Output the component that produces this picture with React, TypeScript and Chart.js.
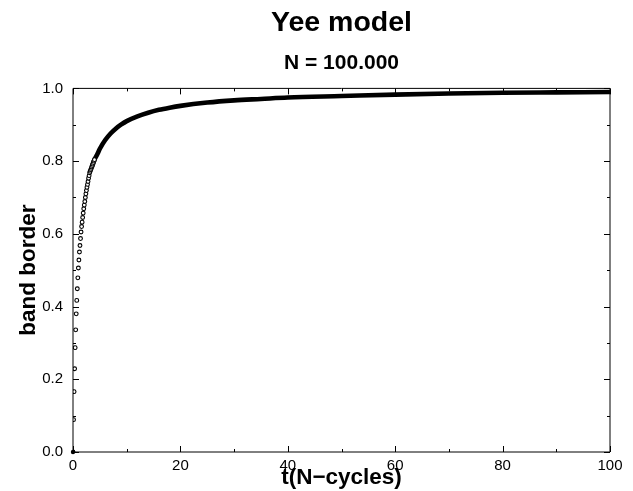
import React, { useEffect, useRef } from "react";
import { Chart, registerables } from "chart.js";

Chart.register(...registerables);

const FONT = "'Liberation Sans', Arial, Helvetica, sans-serif";

const titleText = "Yee model";
const subtitleText = "N = 100.000";
const xTitle = "t(N\u2212cycles)";
const yTitle = "band border";

// early points, drawn as hollow circles
const earlyT = [
  0, 0.1, 0.2, 0.3, 0.4, 0.5, 0.6, 0.7, 0.8, 0.9,
  1.0, 1.1, 1.2, 1.3, 1.4, 1.5, 1.6, 1.7, 1.8, 1.9,
  2.0, 2.1, 2.2, 2.3, 2.4, 2.5, 2.6, 2.7, 2.8, 2.9,
  3.0, 3.1, 3.2, 3.3, 3.4, 3.5, 3.6, 3.7, 3.8, 3.9, 4.0,
];
const earlyY = [
  0, 0.089, 0.166, 0.229, 0.287, 0.336, 0.38, 0.417, 0.449, 0.479,
  0.506, 0.528, 0.55, 0.568, 0.587, 0.605, 0.62, 0.632, 0.645, 0.657,
  0.669, 0.679, 0.689, 0.7, 0.71, 0.719, 0.728, 0.736, 0.744, 0.753,
  0.76, 0.768, 0.772, 0.776, 0.78, 0.784, 0.788, 0.792, 0.796, 0.8, 0.804,
];

// dense part of the curve (points merge into a thick band)
const bandT = [3.5, 4, 4.5, 5, 6, 7, 8, 9, 10, 12, 14, 16, 18, 20, 25, 30, 35, 40, 50, 60, 70, 80, 90, 100];
const bandY = [
  0.784, 0.804, 0.818, 0.834, 0.858, 0.876, 0.89, 0.901, 0.91, 0.923, 0.933, 0.941,
  0.947, 0.952, 0.961, 0.967, 0.971, 0.975, 0.979, 0.983, 0.986, 0.988, 0.989, 0.99,
];

const xMajor = 20;
const yMajor = 0.2;

export default function App() {
  const ref = useRef<HTMLCanvasElement>(null);

  useEffect(() => {
    const canvas = ref.current!;
    Chart.defaults.font.family = FONT;

    const framePlugin = {
      id: "frame",
      afterDatasetsDraw(chart: any) {
        const { ctx, chartArea: a, scales } = chart;
        const xs = scales.x;
        const ys = scales.y;
        ctx.save();
        ctx.strokeStyle = "#000";
        ctx.lineWidth = 1;
        ctx.beginPath();
        ctx.rect(a.left, a.top, a.right - a.left, a.bottom - a.top);
        ctx.stroke();
        ctx.beginPath();
        xs.ticks.forEach((t: any) => {
          const px = Math.round(xs.getPixelForValue(t.value)) + 0.5;
          const major = Math.abs(t.value / xMajor - Math.round(t.value / xMajor)) < 1e-6;
          const L = major ? 6 : 3;
          ctx.moveTo(px, a.bottom);
          ctx.lineTo(px, a.bottom - L);
          ctx.moveTo(px, a.top);
          ctx.lineTo(px, a.top + L);
        });
        ys.ticks.forEach((t: any) => {
          const py = Math.round(ys.getPixelForValue(t.value)) + 0.5;
          const major = Math.abs(t.value / yMajor - Math.round(t.value / yMajor)) < 1e-6;
          const L = major ? 6 : 3;
          ctx.moveTo(a.left, py);
          ctx.lineTo(a.left + L, py);
          ctx.moveTo(a.right, py);
          ctx.lineTo(a.right - L, py);
        });
        ctx.stroke();
        // origin marker
        ctx.fillStyle = "#000";
        ctx.beginPath();
        ctx.arc(xs.getPixelForValue(earlyT[0]), ys.getPixelForValue(earlyY[0]), 2.2, 0, Math.PI * 2);
        ctx.fill();
        ctx.restore();
      },
    };

    const chart = new Chart(canvas, {
      type: "scatter",
      data: {
        datasets: [
          {
            data: earlyT.map((t, i) => ({ x: t, y: earlyY[i] })),
            showLine: false,
            pointRadius: 1.9,
            pointBorderWidth: 1.1,
            pointBorderColor: "#000",
            pointBackgroundColor: "#fff",
            order: 0,
          },
          {
            data: bandT.map((t, i) => ({ x: t, y: bandY[i] })),
            showLine: true,
            borderColor: "#000",
            borderWidth: 4.6,
            pointRadius: 0,
            cubicInterpolationMode: "monotone",
            order: 1,
          },
        ],
      },
      options: {
        responsive: false,
        animation: false,
        layout: { padding: { left: 0, right: 23, top: 0, bottom: 0 } },
        plugins: {
          legend: { display: false },
          tooltip: { enabled: false },
          title: {
            display: true,
            text: titleText,
            fullSize: false,
            color: "#000",
            font: { family: FONT, size: 28.5, weight: "bold" },
            padding: { top: 6, bottom: 0 },
          },
          subtitle: {
            display: true,
            text: subtitleText,
            fullSize: false,
            color: "#000",
            font: { family: FONT, size: 21, weight: "bold" },
            padding: { top: 10, bottom: 13 },
          },
        },
        scales: {
          x: {
            type: "linear",
            min: 0,
            max: 100,
            afterFit(s: any) {
              s.height = 39;
            },
            grid: { display: false, drawTicks: false },
            border: { display: false },
            ticks: {
              stepSize: 10,
              autoSkip: false,
              maxRotation: 0,
              padding: 5,
              color: "#000",
              font: { family: FONT, size: 15 },
              callback: (v: any) => (Math.round(v) % xMajor === 0 ? String(v) : ""),
            },
            title: {
              display: true,
              text: xTitle,
              color: "#000",
              font: { family: FONT, size: 22.5, weight: "bold" },
              padding: { top: 0, bottom: 0 },
            },
          },
          y: {
            type: "linear",
            min: 0,
            max: 1,
            afterFit(s: any) {
              s.width = 73;
            },
            grid: { display: false, drawTicks: false },
            border: { display: false },
            ticks: {
              stepSize: 0.1,
              autoSkip: false,
              padding: 10,
              color: "#000",
              font: { family: FONT, size: 15 },
              callback: (v: any) => (Math.round(v * 10) % 2 === 0 ? Number(v).toFixed(1) : ""),
            },
            title: {
              display: true,
              text: yTitle,
              color: "#000",
              font: { family: FONT, size: 22.5, weight: "bold" },
              padding: { top: 15, bottom: 0 },
            },
          },
        },
      },
      plugins: [framePlugin],
    } as any);

    return () => chart.destroy();
  }, []);

  return (
    <div style={{ position: "fixed", left: 0, top: 0, width: 633, height: 491, background: "#fff" }}>
      <canvas ref={ref} width={633} height={491} style={{ display: "block" }} />
    </div>
  );
}
